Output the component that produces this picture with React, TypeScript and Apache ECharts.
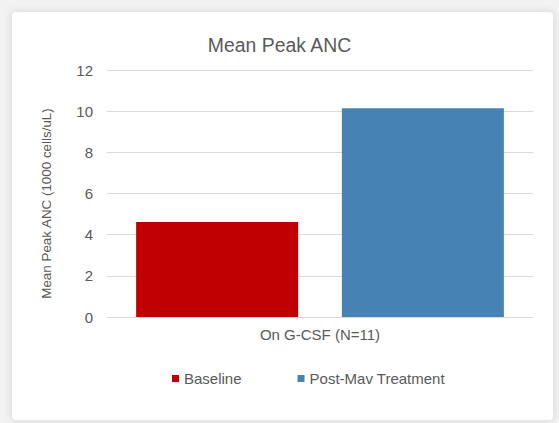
import React, { useEffect, useRef } from "react";
import * as echarts from "echarts";

const categories = ["On G-CSF (N=11)"];
const baselineValues = [4.62];
const postMavValues = [10.14];
const seriesNames = ["Baseline", "Post-Mav Treatment"];

const FONT = "'Liberation Sans', Arial, sans-serif";
const TEXT = "#595959";

export default function App() {
  const ref = useRef<HTMLDivElement>(null);

  useEffect(() => {
    if (!ref.current) return;
    const chart = echarts.init(ref.current, null, { renderer: "svg" });
    chart.setOption({
      animation: false,
      textStyle: { fontFamily: FONT },
      title: {
        text: "Mean Peak ANC",
        left: "center",
        top: 30,
        textStyle: { fontFamily: FONT, fontSize: 19.4, fontWeight: "normal", color: TEXT },
      },
      legend: {
        data: seriesNames,
        top: 371,
        left: 172,
        padding: 0,
        itemWidth: 7,
        itemHeight: 7,
        itemGap: 56,
        icon: "rect",
        textStyle: { fontFamily: FONT, fontSize: 15, color: TEXT },
      },
      grid: { left: 107, right: 26, top: 70, bottom: 106, containLabel: false },
      xAxis: {
        type: "category",
        data: categories,
        axisLine: { lineStyle: { color: "#d9d9d9" } },
        axisTick: { show: false },
        axisLabel: { color: TEXT, fontSize: 15, fontFamily: FONT, margin: 10 },
      },
      yAxis: {
        type: "value",
        min: 0,
        max: 12,
        interval: 2,
        name: "Mean Peak ANC (1000 cells/uL)",
        nameLocation: "middle",
        nameGap: 54,
        nameTextStyle: {
          color: TEXT,
          fontSize: 13.4,
          fontFamily: FONT,
          padding: [0, 20, 0, 0],
        },
        axisLine: { show: false },
        axisTick: { show: false },
        axisLabel: { color: TEXT, fontSize: 15, fontFamily: FONT, margin: 14 },
        splitLine: { lineStyle: { color: "#d9d9d9" } },
      },
      series: [
        {
          name: seriesNames[0],
          type: "bar",
          data: baselineValues,
          barWidth: 162,
          barGap: "27%",
          itemStyle: { color: "#C00000" },
        },
        {
          name: seriesNames[1],
          type: "bar",
          data: postMavValues,
          barWidth: 162,
          barGap: "27%",
          itemStyle: { color: "#4682B4" },
        },
      ],
    });
    return () => chart.dispose();
  }, []);

  return (
    <div
      style={{
        position: "fixed",
        left: 0,
        top: 0,
        width: 559,
        height: 423,
        background: "#f2f2f2",
        overflow: "hidden",
      }}
    >
      <div
        style={{
          position: "absolute",
          left: 12,
          top: 12,
          width: 541,
          height: 408,
          background: "#ffffff",
          borderRadius: 4,
          boxShadow: "0 0 8px rgba(0,0,0,0.12)",
        }}
      />
      <div ref={ref} style={{ position: "absolute", left: 0, top: 0, width: 559, height: 423 }} />
    </div>
  );
}
